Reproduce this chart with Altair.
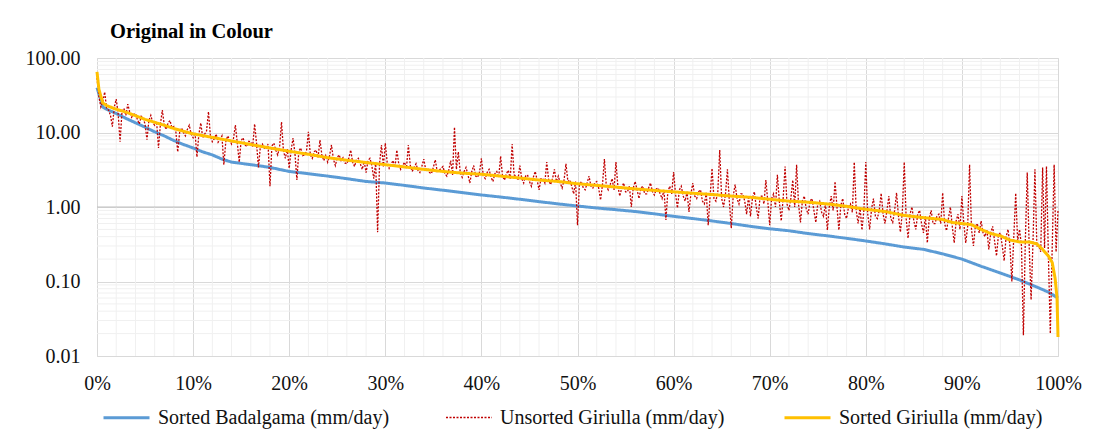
import altair as alt
import pandas as pd

title_text = "Original in Colour"
series_names = ["Sorted Badalgama (mm/day)", "Unsorted Giriulla (mm/day)", "Sorted Giriulla (mm/day)"]
series_colors = ["#5B9BD5", "#C00000", "#FFC000"]

# Sorted Badalgama (exceedance %, mm/day)
badalgama_pct = [0, 0.3, 0.6, 1, 2, 3, 4, 5, 6, 7, 8, 9, 10, 11, 12, 13, 14, 15, 16, 17, 18,
                 20, 22, 24, 26, 28, 30, 32, 34, 36, 38, 40, 42, 44, 46, 48, 50, 52, 54, 56, 58,
                 60, 62, 64, 66, 68, 70, 72, 74, 76, 78, 80, 82, 84, 86, 88, 90, 92, 94, 96, 98, 99, 100]
badalgama_val = [40, 30, 22, 20.5, 18, 15.5, 13.5, 11.8, 10.2, 9.0, 7.8, 6.9, 6.2, 5.5, 5.0, 4.4, 4.0, 3.85, 3.7, 3.55, 3.4,
                 3.0, 2.8, 2.6, 2.4, 2.2, 2.1, 1.95, 1.8, 1.68, 1.56, 1.45, 1.36, 1.27, 1.18, 1.1, 1.03, 0.97, 0.92, 0.87, 0.81,
                 0.75, 0.7, 0.65, 0.6, 0.55, 0.51, 0.48, 0.44, 0.41, 0.38, 0.35, 0.32, 0.29, 0.27, 0.235, 0.2, 0.16, 0.13, 0.105, 0.082, 0.072, 0.06]

# Sorted Giriulla
giriulla_sorted_pct = [0, 0.2, 0.6, 1, 2, 3, 4, 5, 6, 7, 8, 9, 10, 12, 14, 16, 18, 20, 22, 24, 26, 28, 30,
                       32, 34, 36, 38, 40, 42, 44, 46, 48, 50, 52, 54, 56, 58, 60, 62, 64, 66, 68, 70, 72,
                       74, 76, 78, 80, 82, 84, 86, 88, 89, 90, 91, 92, 93, 94, 95, 96, 97, 97.8, 98.4, 99,
                       99.4, 99.7, 99.9, 100]
giriulla_sorted_val = [65, 38, 25, 23, 20.5, 18.8, 16.8, 15, 13.7, 12.5, 11.3, 10.4, 9.6, 8.6, 7.7, 6.9, 6.2, 5.6, 5.1, 4.6, 4.25, 3.95, 3.7,
                       3.45, 3.2, 3.0, 2.85, 2.75, 2.6, 2.45, 2.3, 2.2, 2.05, 1.95, 1.85, 1.75, 1.67, 1.6, 1.53, 1.47, 1.4, 1.35, 1.27, 1.2,
                       1.16, 1.1, 1.02, 0.93, 0.87, 0.77, 0.72, 0.68, 0.62, 0.6, 0.58, 0.5, 0.44, 0.41, 0.36, 0.34, 0.34, 0.32, 0.27, 0.22,
                       0.18, 0.11, 0.06, 0.018]

# Unsorted Giriulla, one value every 0.2 % (20 values per row = 4 %)
giriulla_unsorted_val = [
    54, 30, 22, 26, 35, 21, 20, 17, 12, 22, 28, 18, 7.5, 19, 21, 17, 24, 19, 16, 17.5,
    18, 15, 13, 16.5, 15.5, 13, 8, 14.5, 17, 13.5, 12.5, 14, 6.2, 13, 20, 12.5, 11, 13.5, 14.5, 11.5,
    12, 10.5, 5.5, 10, 11.5, 10, 9, 11, 12.5, 9.5, 8.5, 10, 4.7, 9.5, 13.4, 8.5, 9.5, 10.5, 19, 9,
    7.5, 8.2, 9.5, 7.4, 8, 9, 3.7, 7.5, 9, 8, 7, 8.3, 12.6, 7.2, 4.0, 7.8, 8.5, 6.8, 6.5, 7.6,
    7.5, 6.5, 13, 7.2, 3.4, 6.5, 7, 6.2, 6, 7, 1.9, 6.6, 7.2, 5.8, 5, 6.4, 13.8, 5.7, 4.5, 6.0,
    3.3, 5.8, 8.4, 5.2, 2.3, 5.6, 6.2, 4.9, 5, 5.6, 10.2, 5.0, 4.5, 5.5, 5.8, 4.6, 7.9, 5.0, 4.2, 4.9,
    4.0, 4.9, 6.8, 4.4, 3.6, 4.6, 5.0, 4.2, 4.6, 3.9, 3.8, 4.5, 5.8, 4.0, 3.5, 4.3, 4.5, 3.8, 3.2, 4.1,
    2.9, 4.2, 4.5, 3.6, 2.4, 4.0, 0.46, 3.8, 6.8, 3.5, 7.2, 3.9, 3.3, 3.7, 4.2, 3.4, 5.8, 3.8, 3.2, 3.6,
    4.0, 3.3, 6.8, 3.6, 3.0, 3.4, 3.8, 3.1, 2.9, 3.5, 4.4, 3.2, 3.3, 2.9, 2.8, 3.4, 4.3, 3.0, 3.1, 3.3,
    3.5, 2.8, 2.6, 3.1, 4.2, 2.7, 11.8, 3.2, 5.5, 2.9, 2.5, 3.0, 3.4, 2.7, 2.1, 3.0, 3.6, 2.6, 2.5, 2.9,
    4.5, 2.6, 2.4, 2.9, 3.2, 2.5, 2.2, 2.8, 3.0, 2.5, 4.8, 2.6, 2.3, 2.8, 3.1, 2.4, 7.0, 2.7, 2.6, 2.3,
    3.6, 2.4, 2.1, 2.6, 2.7, 2.2, 1.9, 2.5, 3.0, 2.3, 1.7, 2.4, 2.4, 2.1, 4.0, 2.3, 2.0, 2.4, 3.2, 2.2,
    2.6, 2.1, 1.8, 2.3, 3.8, 2.2, 2.3, 1.9, 1.5, 2.2, 0.57, 2.0, 2.2, 1.8, 1.7, 2.1, 2.6, 1.9, 1.8, 2.1,
    2.2, 1.8, 1.24, 2.0, 4.4, 1.9, 1.7, 2.0, 2.4, 1.7, 4.0, 1.9, 1.4, 1.8, 2.1, 1.6, 1.6, 1.9, 1.0, 1.8,
    2.2, 1.7, 1.3, 1.8, 1.9, 1.5, 1.5, 1.8, 2.1, 1.6, 1.45, 1.75, 1.8, 1.5, 1.3, 1.7, 0.67, 1.6, 1.9, 1.5,
    2.95, 1.5, 0.97, 1.7, 1.9, 1.4, 1.2, 1.6, 0.86, 1.5, 2.1, 1.4, 1.3, 1.6, 1.7, 1.2, 1.1, 1.55, 0.57, 1.4,
    3.3, 1.3, 1.2, 1.6, 5.8, 1.3, 1.0, 1.5, 3.2, 1.2, 0.52, 1.4, 2.0, 1.3, 1.1, 1.5, 1.5, 1.2, 0.8, 1.4,
    0.75, 1.3, 1.6, 1.0, 0.7, 1.4, 1.4, 1.1, 2.3, 1.2, 0.57, 1.3, 1.5, 1.0, 2.7, 1.2, 0.65, 1.3, 3.5, 1.1,
    0.9, 1.3, 2.3, 1.0, 3.7, 1.1, 0.62, 1.2, 1.4, 0.95, 0.8, 1.2, 1.3, 0.9, 0.62, 1.1, 1.2, 0.85, 0.75, 1.1,
    0.49, 1.0, 1.4, 0.9, 2.2, 1.0, 0.49, 1.05, 1.3, 0.8, 0.7, 1.0, 1.1, 0.85, 4.0, 0.9, 0.6, 1.0, 0.49, 0.9,
    4.0, 0.8, 0.5, 0.95, 1.3, 0.75, 0.7, 0.9, 1.53, 0.8, 0.6, 0.9, 1.4, 0.7, 0.62, 0.9, 1.55, 0.75, 0.46, 0.85,
    4.0, 0.7, 0.38, 0.8, 1.0, 0.65, 0.5, 0.8, 0.9, 0.6, 0.45, 0.75, 0.33, 0.7, 0.9, 0.6, 0.6, 0.75, 0.8, 0.6,
    1.55, 0.6, 0.48, 0.7, 1.0, 0.55, 0.33, 0.65, 0.8, 0.5, 1.4, 0.6, 0.33, 0.55, 3.7, 0.5, 0.3, 0.55, 0.6, 0.45,
    0.65, 0.45, 0.4, 0.5, 0.27, 0.45, 0.55, 0.35, 0.22, 0.42, 0.45, 0.3, 0.19, 0.4, 0.5, 0.3, 0.1, 0.4, 1.53, 0.35,
    0.5, 0.3, 0.019, 0.35, 2.9, 0.3, 0.057, 0.35, 3.2, 0.3, 0.3, 0.25, 3.4, 0.28, 3.5, 0.22, 0.02, 0.3, 3.7, 0.25,
    0.9,
]
giriulla_unsorted_pct = [round(i * 0.2, 1) for i in range(len(giriulla_unsorted_val))]

# Axis ticks and gridlines
x_major = [0, 10, 20, 30, 40, 50, 60, 70, 80, 90, 100]
x_minor = [p for p in range(2, 100, 2) if p % 10 != 0]
y_major = [0.01, 0.1, 1, 10, 100]
y_minor = [m * d for d in (0.01, 0.1, 1, 10) for m in range(2, 10)]
y_cross = [1]

FONT = "Liberation Serif"
GRID_MAJOR = "#D9D9D9"
GRID_MINOR = "#F0F0F0"
FS = 20

def series_df(pct, val, name):
    return pd.DataFrame({"pct": [p / 100 for p in pct], "val": val, "series": name})

xs = alt.Scale(domain=[0, 1], nice=False, zero=False)
ys = alt.Scale(type="log", domain=[0.01, 100], nice=False)

x_axis = alt.Axis(values=[v / 100 for v in x_major], format=".0%", title=None, grid=True,
                  gridColor=GRID_MAJOR, domain=False, ticks=False, labelPadding=17, labelFlush=False,
                  labelFont=FONT, labelFontSize=FS, labelColor="#111")
y_axis = alt.Axis(values=y_major, format=".2f", title=None, grid=True, gridColor=GRID_MAJOR,
                  domain=False, ticks=False, labelPadding=17, labelFont=FONT, labelFontSize=FS,
                  labelColor="#111", minExtent=89, maxExtent=89)

legend = alt.Legend(title=None, orient="none", legendX=5, legendY=335, direction="horizontal",
                    symbolType="stroke", symbolSize=2116, labelFont=FONT, labelFontSize=FS,
                    labelColor="#111", labelOffset=7, columnPadding=53, labelLimit=400)

color = alt.Color("series:N", scale=alt.Scale(domain=series_names, range=series_colors), legend=legend)
dash = alt.StrokeDash("series:N", scale=alt.Scale(domain=series_names, range=[[1, 0], [2, 1.5], [1, 0]]), legend=legend)
width = alt.StrokeWidth("series:N", scale=alt.Scale(type="ordinal", domain=series_names, range=[3, 1.3, 3]), legend=legend)

def line_layer(df):
    return alt.Chart(df).mark_line(interpolate="linear").encode(
        x=alt.X("pct:Q", scale=xs, axis=x_axis),
        y=alt.Y("val:Q", scale=ys, axis=y_axis),
        color=color, strokeDash=dash, strokeWidth=width,
    )

minor_x = alt.Chart(pd.DataFrame({"pct": [p / 100 for p in x_minor]})).mark_rule(
    color=GRID_MINOR, strokeWidth=1).encode(x=alt.X("pct:Q", scale=xs, axis=x_axis))
minor_y = alt.Chart(pd.DataFrame({"val": y_minor})).mark_rule(
    color=GRID_MINOR, strokeWidth=1).encode(y=alt.Y("val:Q", scale=ys, axis=y_axis))
cross = alt.Chart(pd.DataFrame({"val": y_cross})).mark_rule(
    color="#BFBFBF", strokeWidth=1).encode(y=alt.Y("val:Q", scale=ys, axis=y_axis))

blue = line_layer(series_df(badalgama_pct, badalgama_val, series_names[0]))
red = line_layer(series_df(giriulla_unsorted_pct, giriulla_unsorted_val, series_names[1]))
yellow = line_layer(series_df(giriulla_sorted_pct, giriulla_sorted_val, series_names[2]))

chart = alt.layer(minor_x, minor_y, cross, blue, red, yellow).properties(
    width=961, height=298,
    title=alt.Title(title_text, font=FONT, fontSize=20.5, fontWeight="bold", color="#000",
                    anchor="start", frame="group", dx=13, offset=6),
    padding={"left": 0, "top": 13, "right": 5, "bottom": 5},
).configure_view(stroke=None).configure(background="white")

chart.save("out.html", embed_options={"renderer": "svg", "actions": False})
